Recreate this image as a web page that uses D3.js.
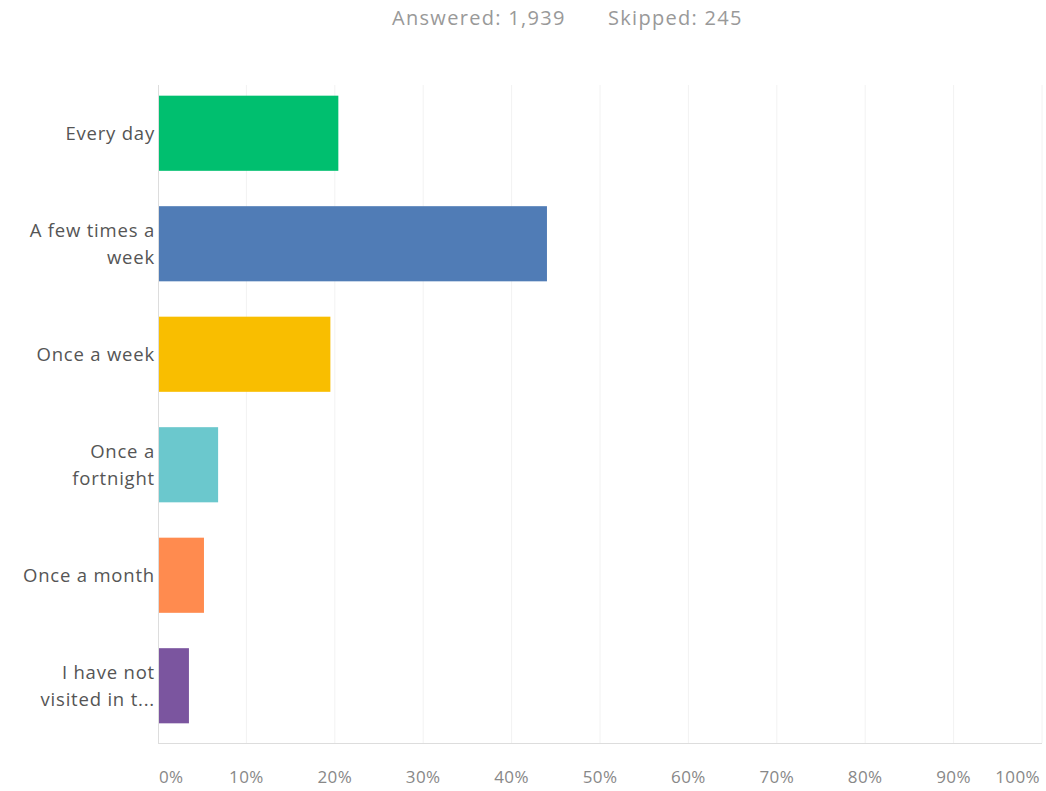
<!DOCTYPE html>
<html><head><meta charset="utf-8">
<script src="https://cdn.jsdelivr.net/npm/d3@7"></script>
<style>body{margin:0;background:#fff}</style>
</head><body>
<svg id="c" width="1046" height="791"></svg>
<script>
const categories = [["Every day"],["A few times a","week"],["Once a week"],["Once a","fortnight"],["Once a month"],["I have not","visited in t..."]];
const values = [20.4, 44.0, 19.5, 6.8, 5.2, 3.5];
const colors = ["#00bf6f","#507cb6","#f9be00","#6bc8cd","#ff8b4f","#7b559f"];
const ticks = [0,10,20,30,40,50,60,70,80,90,100];
const answered = "Answered: 1,939";
const skipped = "Skipped: 245";

const svg = d3.select("#c");
const font = "'Open Sans', sans-serif";
const x = d3.scaleLinear().domain([0,100]).range([158,1042]);
const y = d3.scaleBand().domain(d3.range(values.length)).range([78,741]).paddingInner(0.32).paddingOuter(0.16);

svg.append("text").attr("x",392).attr("y",25).attr("text-anchor","start")
  .attr("font-family",font).attr("font-size",20).attr("letter-spacing",1.3).attr("fill","#999").text(answered);
svg.append("text").attr("x",608).attr("y",25).attr("text-anchor","start")
  .attr("font-family",font).attr("font-size",20).attr("letter-spacing",1.3).attr("fill","#999").text(skipped);

// grid
svg.append("g").selectAll("line").data(ticks.slice(1)).join("line")
  .attr("x1",d=>x(d)).attr("x2",d=>x(d)).attr("y1",85).attr("y2",743)
  .attr("stroke","#f2f2f2").attr("stroke-width",1);

// bars
svg.append("g").selectAll("rect").data(values).join("rect")
  .attr("x",x(0)).attr("y",(d,i)=>y(i)).attr("width",d=>x(d)-x(0)).attr("height",y.bandwidth())
  .attr("fill",(d,i)=>colors[i]);

// axes lines
svg.append("line").attr("x1",158.5).attr("x2",158.5).attr("y1",85).attr("y2",743).attr("stroke","#ddd");
svg.append("line").attr("x1",158).attr("x2",1042).attr("y1",743.5).attr("y2",743.5).attr("stroke","#ddd");

// x tick labels
svg.append("g").selectAll("text").data(ticks).join("text")
  .attr("x",d=> d===0 ? x(d)+1 : d===100 ? x(d)-2 : x(d))
  .attr("y",783)
  .attr("text-anchor",d=> d===0 ? "start" : d===100 ? "end" : "middle")
  .attr("font-family",font).attr("font-size",17).attr("letter-spacing",0.4).attr("fill","#888")
  .text(d=>d+"%");

// y labels
const lh = 27;
const lab = svg.append("g");
categories.forEach((lines,i)=>{
  const cy = y(i)+y.bandwidth()/2;
  const n = lines.length;
  lines.forEach((t,j)=>{
    lab.append("text").attr("x",155).attr("y",cy + (j-(n-1)/2)*lh).attr("dy","0.35em")
      .attr("text-anchor","end").attr("font-family",font).attr("font-size",18.5)
      .attr("letter-spacing",0.8).attr("fill","#555").text(t);
  });
});
</script>
</body></html>
